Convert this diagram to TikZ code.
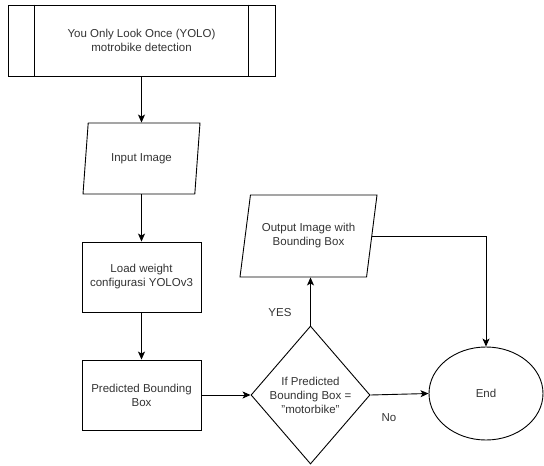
\documentclass[tikz,border=0pt]{standalone}
\usepackage{fontspec}
\setmainfont{Liberation Sans}
\usetikzlibrary{shapes.geometric, arrows.meta}
\tikzset{
    >={Stealth[length=8pt, width=7pt, inset=2pt]}, % filled arrow heads
    every node/.style={text=black!80, font=\fontsize{11.5}{14}\selectfont, align=center}, % text of all boxes
    procbox/.style={draw=black, rectangle, inner sep=2pt}, % process steps
    iobox/.style={draw=black, trapezium, trapezium left angle=70, trapezium right angle=110, trapezium stretches body, inner sep=2pt}, % input and output
    decbox/.style={draw=black, diamond, inner sep=0pt, aspect=0.85}, % the question
    endbox/.style={draw=black, ellipse, inner sep=0pt}, % terminator
    flow/.style={->, draw=black}, % connectors
}

\begin{document}
\begin{tikzpicture}[x=1pt, y=-1pt, line width=0.9pt]
\useasboundingbox (0,0) rectangle (544,466);
\node[procbox, minimum width=267pt, minimum height=71pt] (yolo) at (141.5,40.5) {You Only Look Once (YOLO)\\motrobike detection};
\draw ([xshift=27pt]yolo.north west) -- ([xshift=27pt]yolo.south west);
\draw ([xshift=-27pt]yolo.north east) -- ([xshift=-27pt]yolo.south east);
\node[iobox, minimum width=117pt, minimum height=71pt] (input) at (141.5,158.5) {Input Image};
\node[procbox, minimum width=119pt, minimum height=70pt] (load) at (141.5,277) {Load weight\\configurasi YOLOv3};
\node[procbox, minimum width=119pt, minimum height=70pt] (pred) at (141.5,395) {Predicted Bounding\\Box};
\node[decbox, minimum width=119pt, minimum height=138pt] (dec) at (310.5,395) {If Predicted\\Bounding Box =\\"motorbike"};
\node[iobox, minimum width=137pt, minimum height=82pt] (out) at (308.5,236) {Output Image with\\Bounding Box};
\node[endbox, minimum width=114pt, minimum height=93pt] (end) at (486,393.5) {End};
\node (yes) at (280,313) {YES};
\node (no) at (389,418) {No};
\draw[flow] (yolo.south) -- (yolo.south |- input.north);
\draw[flow] (load.north |- input.south) -- (load.north);
\draw[flow] (load.south) -- (pred.north);
\draw[flow] (pred.east) -- (dec.west);
\draw[flow] (dec.north) -- (dec.north |- out.south);
\draw[flow] (dec.east) -- (end.west);
\draw[flow] (out.east) -| (end.north);
\end{tikzpicture}
\end{document}
